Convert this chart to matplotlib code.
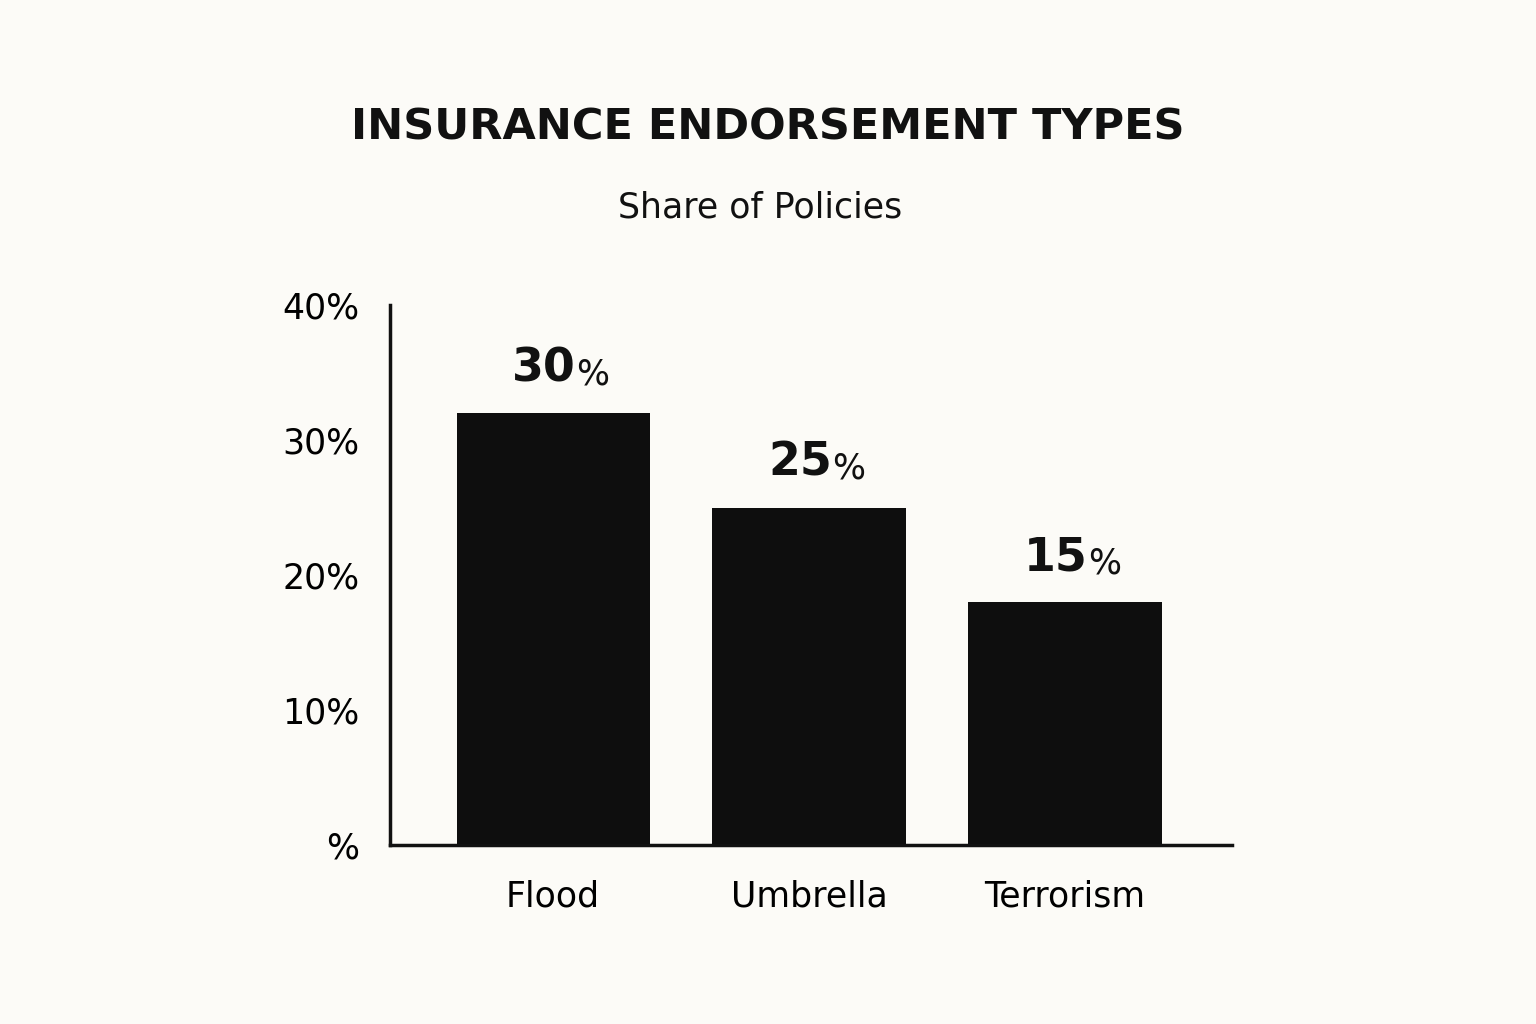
import matplotlib
matplotlib.use("Agg")
import matplotlib.pyplot as plt

categories = ["Flood", "Umbrella", "Terrorism"]
bar_heights = [32, 25, 18]
label_values = ["30", "25", "15"]
yticks = [0, 10, 20, 30, 40]
ytick_labels = ["%", "10%", "20%", "30%", "40%"]

bg = "#fcfbf7"
fig = plt.figure(figsize=(15.36, 10.24), dpi=100, facecolor=bg)
ax = fig.add_axes([0.254, 0.175, 0.548, 0.527], facecolor=bg)
x = list(range(len(categories)))
ax.bar(x, bar_heights, width=0.755, color="#0e0e0e")
ax.set_xlim(-0.637, 2.652)
ax.set_ylim(0, 40)
for s in ["top", "right"]:
    ax.spines[s].set_visible(False)
for s in ["left", "bottom"]:
    ax.spines[s].set_linewidth(2.5)
    ax.spines[s].set_color("#111111")
ax.set_yticks(yticks)
ax.set_yticklabels(ytick_labels, fontsize=25, family="DejaVu Sans")
ax.set_xticks(x)
ax.set_xticklabels(categories, fontsize=25, family="DejaVu Sans")
ax.tick_params(length=0, pad=22)
ax.tick_params(axis="x", pad=25)
for xi, h, lab in zip(x, bar_heights, label_values):
    ax.text(xi + 0.09, h + 1.6, lab, ha="right", va="bottom", fontsize=33,
            fontweight="bold", color="#111111")
    ax.text(xi + 0.09, h + 1.6, "%", ha="left", va="bottom", fontsize=25,
            color="#111111")
fig.text(0.5, 0.875, "INSURANCE ENDORSEMENT TYPES", ha="center", va="center",
         fontsize=31, fontweight="bold", color="#111111")
fig.text(0.495, 0.797, "Share of Policies", ha="center", va="center",
         fontsize=25, color="#111111")
fig.savefig("out.png", facecolor=bg)
